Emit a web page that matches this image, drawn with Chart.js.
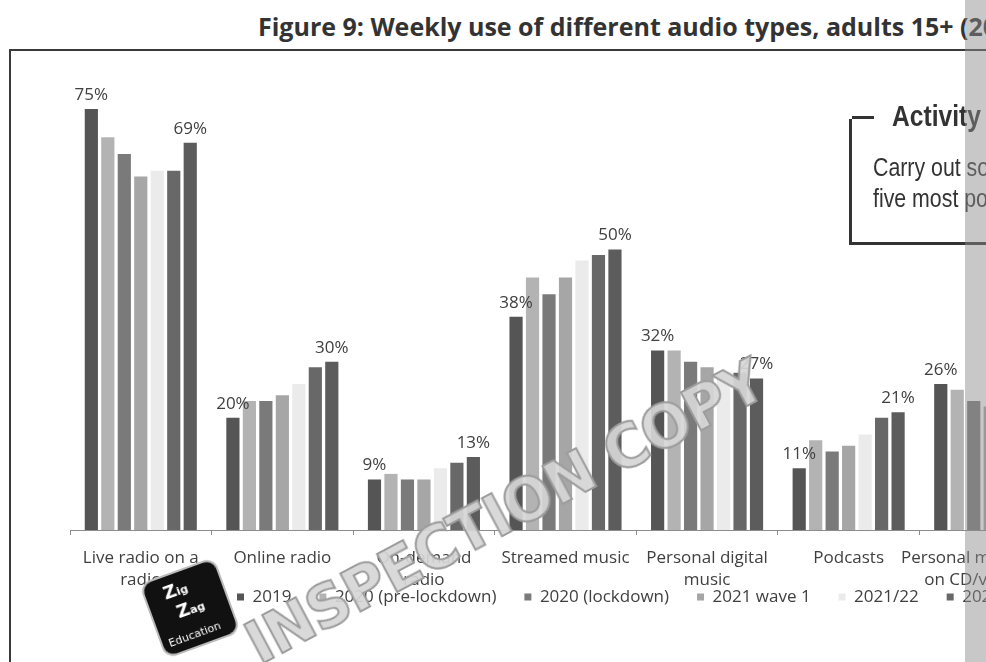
<!DOCTYPE html>
<html>
<head>
<meta charset="utf-8">
<script src="https://cdn.jsdelivr.net/npm/chart.js@4/dist/chart.umd.min.js"></script>
<style>
  html, body { margin: 0; padding: 0; width: 986px; height: 662px; overflow: hidden; background: #fff; }
  body { position: relative; }
  #title {
    position: absolute; left: 258px; top: 9px; white-space: nowrap;
    font: bold 25px/34px "Open Sans", sans-serif; color: #333;
  }
  #frame {
    position: absolute; left: 9px; top: 49px; width: 1200px; height: 800px;
    border-top: 2px solid #3a3a3a; border-left: 2px solid #3a3a3a;
  }
  #chart { position: absolute; left: 0; top: 0; }
  #activity { position: absolute; left: 849px; top: 119px; width: 300px; height: 123px;
    border-left: 3px solid #333; border-bottom: 3px solid #333; }
  #activity .cap { position: absolute; left: 0; top: -3px; width: 22px; height: 3px; background: #333; }
  #activity h3, #activity p { position: absolute; margin: 0; white-space: nowrap; color: #333;
    transform: scaleX(0.82); transform-origin: left top; font-family: "Liberation Sans", Arial, sans-serif; }
  #activity h3 { left: 40px; top: -19px; font-size: 30px; line-height: 31px; font-weight: bold; }
  #activity p { left: 21px; top: 33px; font-size: 26px; line-height: 31px; font-weight: normal; }
  #stamp {
    position: absolute; left: 505px; top: 512px; transform: translate(-50%, -50%) rotate(-28deg);
    white-space: nowrap; font: bold 58px/1 "DejaVu Sans", sans-serif; letter-spacing: -1px;
    color: rgba(214, 214, 214, 0.92); -webkit-text-stroke: 2px #9c9c9c;
  }
  #logo {
    position: absolute; left: 150px; top: 568px; width: 76px; height: 76px;
    background: #111; border: 2px solid #bbb; border-radius: 12px; transform: rotate(-20deg);
    color: #fff; font-family: "DejaVu Sans", sans-serif; font-weight: bold; text-align: center;
  }
  #logo .z { position: absolute; left: 18px; top: 6px; font-size: 18px; line-height: 19px; text-align: left; }
  #logo .z small { font-size: 11px; }
  #logo .ed { position: absolute; left: 6px; bottom: 5px; font-size: 11px; font-weight: normal; }
  #edge { position: absolute; left: 965px; top: 0; width: 21px; height: 662px; background: rgba(140, 140, 140, 0.48); }
</style>
</head>
<body>
<div id="title">Figure 9: Weekly use of different audio types, adults 15+ (2019–2023)</div>
<div id="frame"></div>
<canvas id="chart" width="1101" height="662"></canvas>
<div id="activity">
  <div class="cap"></div>
  <h3>Activity</h3>
  <p>Carry out some research into the<br>five most popular podcasts.</p>
</div>
<div id="stamp">INSPECTION COPY</div>
<div id="logo"><div class="z">Z<small>ig</small><br>&nbsp;Z<small>ag</small></div><div class="ed">Education</div></div>
<div id="edge"></div>

<script>
const categories = [
  ['Live radio on a', 'radio'],
  'Online radio',
  ['On-demand', 'radio'],
  'Streamed music',
  ['Personal digital', 'music'],
  'Podcasts',
  ['Personal music owned', 'on CD/vinyl/tape'],
]

const seriesNames = ['2019', '2020 (pre-lockdown)', '2020 (lockdown)', '2021 wave 1', '2021/22', '2022/23', '2023']

// weekly reach, % of adults 15+
const y2019 = [75, 20, 9, 38, 32, 11, 26]
const y2020pre = [70, 23, 10, 45, 32, 16, 25]
const y2020lock = [67, 23, 9, 42, 30, 14, 23]
const y2021w1 = [63, 24, 9, 45, 29, 15, 22]
const y2021_22 = [64, 26, 11, 48, 28, 17, 21]
const y2022_23 = [64, 29, 12, 49, 28, 20, 19]
const y2023 = [69, 30, 13, 50, 27, 21, 18]

const seriesValues = [y2019, y2020pre, y2020lock, y2021w1, y2021_22, y2022_23, y2023]
const barColours = ['#555555', '#b3b3b3', '#7a7a7a', '#a6a6a6', '#ebebeb', '#686868', '#5c5c5c']

const labelFont = { family: 'Open Sans', size: 17 }
const legendStartX = 237
const legendTop = 560.5

// legend sits tucked under the axis labels and starts part-way across
const legendShift = {
  id: 'legendShift',
  afterLayout(chart) {
    const lg = chart.legend
    const dy = legendTop - lg.top
    lg.top += dy
    lg.bottom += dy
    lg.left = legendStartX - lg.options.labels.padding
  },
}

// % labels over the first and last bar of each group
const endLabels = {
  id: 'endLabels',
  afterDatasetsDraw(chart) {
    const ctx = chart.ctx
    const last = chart.data.datasets.length - 1
    ctx.save()
    ctx.font = '17px "Open Sans"'
    ctx.fillStyle = '#404040'
    ctx.textAlign = 'center'
    ctx.textBaseline = 'alphabetic'
    ;[0, last].forEach((di) => {
      chart.getDatasetMeta(di).data.forEach((bar, i) => {
        ctx.fillText(chart.data.datasets[di].data[i] + '%', bar.x, bar.y - 9)
      })
    })
    ctx.restore()
  },
}

new Chart(document.getElementById('chart'), {
  type: 'bar',
  data: {
    labels: categories,
    datasets: seriesNames.map((name, i) => ({
      label: name,
      data: seriesValues[i],
      backgroundColor: barColours[i],
      borderWidth: 0,
      categoryPercentage: 0.815,
      barPercentage: 0.8,
    })),
  },
  options: {
    responsive: false,
    animation: false,
    devicePixelRatio: 1,
    layout: { padding: { top: 81, right: 40, bottom: 15, left: 0 } },
    scales: {
      x: {
        grid: { offset: true, drawOnChartArea: false, tickLength: 5, color: '#8c8c8c' },
        border: { color: '#8c8c8c' },
        ticks: {
          color: '#404040',
          font: { ...labelFont, lineHeight: 1.3 },
          padding: 12,
          maxRotation: 0,
          autoSkip: false,
        },
        afterFit: (scale) => { scale.height = 62 },
      },
      y: {
        min: 0,
        max: 80,
        ticks: { display: false },
        grid: { display: false },
        border: { display: false },
        afterFit: (scale) => { scale.width = 70 },
      },
    },
    plugins: {
      legend: {
        position: 'bottom',
        align: 'start',
        labels: { boxWidth: 7, boxHeight: 7, padding: 28, color: '#404040', font: labelFont },
      },
      tooltip: { enabled: false },
    },
  },
  plugins: [legendShift, endLabels],
})
</script>
</body>
</html>
